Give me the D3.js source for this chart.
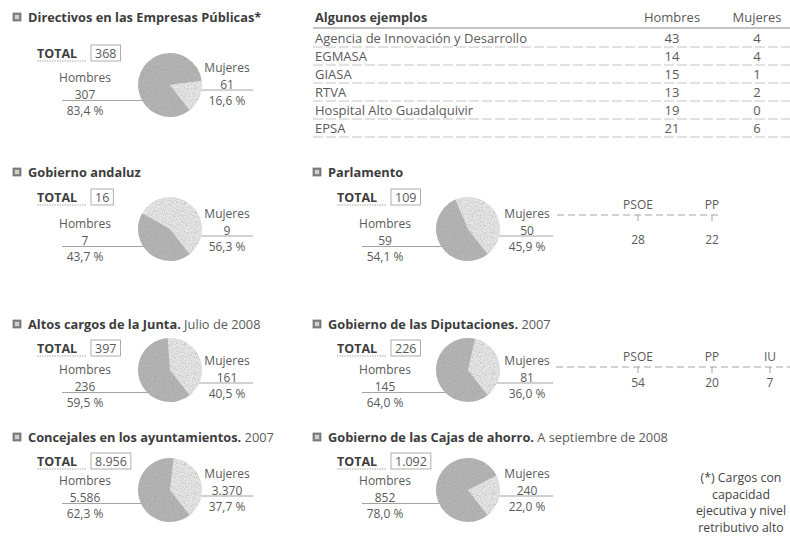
<!DOCTYPE html>
<html><head><meta charset="utf-8">
<script src="https://cdn.jsdelivr.net/npm/d3@7"></script>
<style>
html,body{margin:0;padding:0;background:#fff;}
svg{display:block;font-family:"Open Sans","Noto Sans",sans-serif;}
</style></head>
<body><svg id="c" width="790" height="539"></svg>
<script>
// ---------- DATA ----------
const panelTitles = ["Directivos en las Empresas Públicas*","Gobierno andaluz","Parlamento","Altos cargos de la Junta.","Gobierno de las Diputaciones.","Concejales en los ayuntamientos.","Gobierno de las Cajas de ahorro."];
const panelSubtitles = ["","","","Julio de 2008","2007","2007","A septiembre de 2008"];
const totals = [368,16,109,397,226,8956,1092];
const hombres = [307,7,59,236,145,5586,852];
const mujeres = [61,9,50,161,81,3370,240];
const pctHombres = ["83,4","43,7","54,1","59,5","64,0","62,3","78,0"];
const pctMujeres = ["16,6","56,3","45,9","40,5","36,0","37,7","22,0"];
const sexLabels = ["Hombres","Mujeres"];

const companies = ["Agencia de Innovación y Desarrollo","EGMASA","GIASA","RTVA","Hospital Alto Guadalquivir","EPSA"];
const companyHombres = [43,14,15,13,19,21];
const companyMujeres = [4,4,1,2,0,6];
const tableHeader = ["Algunos ejemplos","Hombres","Mujeres"];

const parlParties = ["PSOE","PP"];
const parlValues = [28,22];
const dipParties = ["PSOE","PP","IU"];
const dipValues = [54,20,7];

const footnote = ["(*) Cargos con","capacidad","ejecutiva y nivel","retributivo alto"];

// ---------- LAYOUT ----------
const svg = d3.select("#c");
const defs = svg.append("defs");
const f = defs.append("filter").attr("id","grain").attr("x","-5%").attr("y","-5%").attr("width","110%").attr("height","110%");
f.append("feTurbulence").attr("type","fractalNoise").attr("baseFrequency",1.1).attr("numOctaves",1).attr("seed",3).attr("result","t");
f.append("feColorMatrix").attr("in","t").attr("type","matrix")
  .attr("values","0 0 0 0 0.3  0 0 0 0 0.3  0 0 0 0 0.3  0 0 0 1.5 -0.6").attr("result","a");
f.append("feComposite").attr("in","a").attr("in2","SourceGraphic").attr("operator","in").attr("result","dots");
const fm = f.append("feMerge");
fm.append("feMergeNode").attr("in","SourceGraphic");
fm.append("feMergeNode").attr("in","dots");

const es = d3.formatLocale({decimal:",",thousands:".",grouping:[3],currency:["","€"]});
const fmt = es.format(",");
const C_BOLD = "#3d3d3d", C_TXT = "#5a5a5a", C_LINE = "#9a9a9a";
const COL_H = "#b6b6b6", COL_M = "#e9e9e9";
const FS = 12;

const panelCell = [[0,0],[0,1],[1,1],[0,2],[1,2],[0,3],[1,3]];
const colX = [0,300];
const rows = [
  {title:17, total:53, cy:85, hy:78, my:69},
  {title:172, total:197, cy:229, hy:224, my:215},
  {title:324, total:348, cy:370, hy:370, my:362},
  {title:437, total:461, cy:490, hy:481, my:475}
];
const R = 32;
const endM = 142 * Math.PI/180;

const pie = d3.pie().sort(null).value(d=>d.v);
const arc = d3.arc().innerRadius(0).outerRadius(R);

function icon(g,x,y){
  g.append("rect").attr("x",x).attr("y",y-4).attr("width",8).attr("height",8)
    .attr("fill","#8a8a8a").attr("stroke","#555").attr("stroke-width",0.6);
  g.append("rect").attr("x",x+2).attr("y",y-2).attr("width",4).attr("height",4).attr("fill","#d0d0d0");
}

panelTitles.forEach((t,i)=>{
  const [c,r] = panelCell[i];
  const ox = colX[c], L = rows[r];
  const g = svg.append("g");
  icon(g, ox+13, L.title);
  const tt = g.append("text").attr("x",ox+28).attr("y",L.title+4.5)
    .attr("font-size",12.8).attr("fill",C_BOLD);
  tt.append("tspan").attr("font-weight","bold").text(t);
  if(panelSubtitles[i]) tt.append("tspan").attr("fill",C_TXT).text(" "+panelSubtitles[i]);

  // TOTAL
  g.append("text").attr("x",ox+37).attr("y",L.total+4.5).attr("font-size",12.5)
    .attr("font-weight","bold").attr("fill",C_BOLD).text("TOTAL");
  g.append("line").attr("x1",ox+37).attr("x2",ox+86).attr("y1",L.total+8).attr("y2",L.total+8)
    .attr("stroke","#aaa").attr("stroke-width",1).attr("stroke-dasharray","1.5,1");
  const tw = g.append("text").attr("x",ox+95).attr("y",L.total+4.5).attr("font-size",12.5)
    .attr("fill",C_TXT).text(fmt(totals[i]));
  const bw = tw.node().getComputedTextLength();
  g.append("rect").attr("x",ox+91).attr("y",L.total-8).attr("width",bw+8).attr("height",16)
    .attr("fill","none").attr("stroke","#9a9a9a").attr("stroke-width",0.8);

  // Pie
  const cx = ox + 170 - (c? 2:0), cy = L.cy;
  const fracM = mujeres[i]/totals[i];
  const start = endM - fracM*2*Math.PI;
  pie.startAngle(start).endAngle(start+2*Math.PI);
  const slices = pie([{k:"M",v:mujeres[i]},{k:"H",v:hombres[i]}]);
  const hx = ox+85, mx = ox+227;
  g.append("line").attr("x1",ox+62).attr("x2",cx-R*0.5).attr("y1",L.hy+22.5).attr("y2",L.hy+22.5)
    .attr("stroke",C_LINE).attr("stroke-width",0.9);
  g.append("line").attr("x1",cx+R*0.4).attr("x2",ox+253).attr("y1",L.my+21).attr("y2",L.my+21)
    .attr("stroke",C_LINE).attr("stroke-width",0.9);
  g.append("g").attr("transform",`translate(${cx},${cy})`).attr("filter","url(#grain)")
    .selectAll("path").data(slices).join("path")
    .attr("d",arc).attr("fill",d=>d.data.k==="H"?COL_H:COL_M);

  const lbl = (x,y,txt)=>g.append("text").attr("x",x).attr("y",y).attr("text-anchor","middle")
    .attr("font-size",FS).attr("fill",C_TXT).text(txt);
  lbl(hx, L.hy+3.5, sexLabels[0]);
  lbl(hx, L.hy+20.5, fmt(hombres[i]));
  lbl(hx, L.hy+37, pctHombres[i]+" %");
  lbl(mx, L.my+3, sexLabels[1]);
  lbl(mx, L.my+19.5, fmt(mujeres[i]));
  lbl(mx, L.my+36, pctMujeres[i]+" %");
});

// ---------- Party breakdowns ----------
const partyX = d3.scaleOrdinal().domain(["PSOE","PP","IU"]).range([638,712,770]);
function parties(names, vals, ytop, valOff, lineStart, lineEnd){
  const g = svg.append("g");
  g.append("line").attr("x1",lineStart).attr("x2",lineEnd).attr("y1",ytop+10).attr("y2",ytop+10)
    .attr("stroke",C_LINE).attr("stroke-width",0.9).attr("stroke-dasharray","7,4");
  names.forEach((n,j)=>{
    const x = partyX(n);
    g.append("text").attr("x",x).attr("y",ytop+4).attr("text-anchor","middle")
      .attr("font-size",FS).attr("fill",C_TXT).text(n);
    g.append("line").attr("x1",x).attr("x2",x).attr("y1",ytop+10).attr("y2",ytop+16)
      .attr("stroke",C_LINE).attr("stroke-width",0.9);
    g.append("text").attr("x",x).attr("y",ytop+valOff).attr("text-anchor","middle")
      .attr("font-size",FS).attr("fill",C_TXT).text(vals[j]);
  });
}
parties(parlParties, parlValues, 205, 39, 557, 722);
parties(dipParties, dipValues, 357, 30, 556, 790);

// ---------- Table ----------
const tg = svg.append("g");
const tColX = [315, 672, 757];
const TFS = 13;
tg.append("text").attr("x",tColX[0]).attr("y",21.5).attr("font-size",12.8).attr("font-weight","bold")
  .attr("fill",C_BOLD).text(tableHeader[0]);
[1,2].forEach(k=>tg.append("text").attr("x",tColX[k]).attr("y",21.5).attr("text-anchor","middle")
  .attr("font-size",TFS).attr("fill",C_TXT).text(tableHeader[k]));
tg.append("line").attr("x1",313).attr("x2",790).attr("y1",28).attr("y2",28).attr("stroke","#888").attr("stroke-width",1);
const rowY = d3.scaleBand().domain(companies).range([29,137]);
companies.forEach((n,j)=>{
  const y = rowY(n)+rowY.bandwidth()/2+4.5;
  tg.append("text").attr("x",tColX[0]).attr("y",y).attr("font-size",TFS).attr("fill",C_TXT).text(n);
  tg.append("text").attr("x",tColX[1]).attr("y",y).attr("text-anchor","middle").attr("font-size",TFS).attr("fill",C_TXT).text(companyHombres[j]);
  tg.append("text").attr("x",tColX[2]).attr("y",y).attr("text-anchor","middle").attr("font-size",TFS).attr("fill",C_TXT).text(companyMujeres[j]);
  tg.append("line").attr("x1",313).attr("x2",790).attr("y1",rowY(n)+rowY.bandwidth()).attr("y2",rowY(n)+rowY.bandwidth())
    .attr("stroke","#b5b5b5").attr("stroke-width",0.8).attr("stroke-dasharray","10,3");
});

// ---------- Footnote ----------
footnote.forEach((s,j)=>svg.append("text").attr("x",741).attr("y",482+j*16.5).attr("text-anchor","middle")
  .attr("font-size",12.3).attr("fill","#444").text(s));
</script></body></html>
